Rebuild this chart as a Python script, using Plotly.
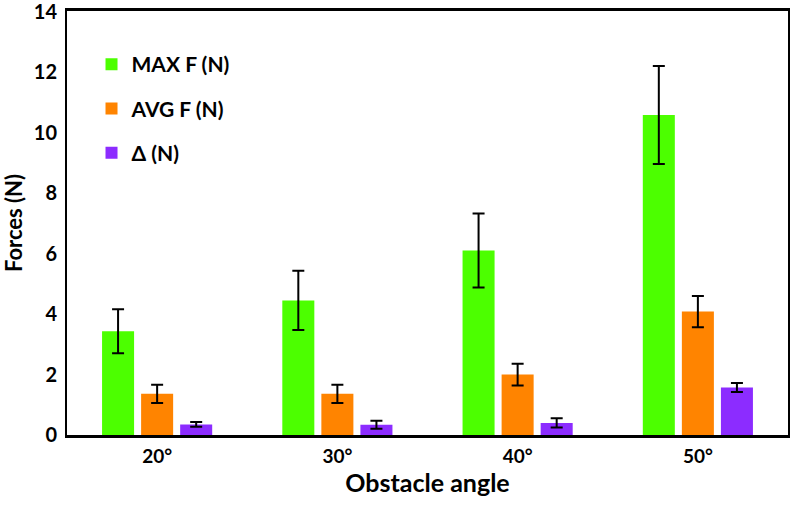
import plotly.graph_objects as go

categories = ["20°", "30°", "40°", "50°"]
max_f = [3.43, 4.45, 6.10, 10.58]
max_f_err = [0.73, 0.98, 1.22, 1.62]
avg_f = [1.36, 1.36, 2.00, 4.08]
avg_f_err = [0.30, 0.30, 0.36, 0.52]
delta = [0.35, 0.34, 0.40, 1.57]
delta_err = [0.08, 0.13, 0.15, 0.15]
y_ticks = [0, 2, 4, 6, 8, 10, 12, 14]

series = [
    ("MAX F (N)", max_f, max_f_err, "#4cff00"),
    ("AVG F (N)", avg_f, avg_f_err, "#ff8400"),
    ("Δ (N)", delta, delta_err, "#8c2cff"),
]

FONT = "Lato"

fig = go.Figure()
for i, (name, vals, errs, col) in enumerate(series):
    fig.add_trace(go.Bar(
        x=categories, y=vals, name=name,
        marker=dict(color=col, line=dict(width=0)),
        error_y=dict(type="data", array=errs, visible=True,
                     color="black", thickness=2, width=6),
        legendgroup=f"g{i}",
    ))

fig.update_layout(
    width=792, height=507,
    margin=dict(l=67, r=4, t=11, b=72),
    plot_bgcolor="white", paper_bgcolor="white",
    barmode="group", bargap=0.35, bargroupgap=0.18,
    font=dict(family=FONT, color="black", size=17),
    showlegend=True,
    legend=dict(
        x=0.034, y=0.922, xanchor="left", yanchor="top",
        bgcolor="rgba(0,0,0,0)", traceorder="grouped", tracegroupgap=14,
        font=dict(family=FONT, size=21, color="black", weight="bold"),
    ),
    xaxis=dict(
        automargin=False,
        showline=True, linecolor="black", linewidth=3, mirror=True,
        ticks="", ticklabelstandoff=2,
        tickfont=dict(family=FONT, size=19, weight="bold"),
        title=dict(text="<b>Obstacle angle</b>", font=dict(family=FONT, size=25), standoff=7),
    ),
    yaxis=dict(
        automargin=False,
        range=[0, 14.02], tickvals=y_ticks, showgrid=False, zeroline=False,
        showline=True, linecolor="black", linewidth=2, mirror=True,
        ticks="", ticklabelstandoff=4, ticklabeloverflow="allow",
        tickfont=dict(family=FONT, size=20, weight="bold"),
        title=dict(text="<b>Forces (N)</b>", font=dict(family=FONT, size=22), standoff=14),
    ),
)

fig.write_html("out.html", config={"displayModeBar": False},
               post_script="document.body.style.margin='0';")
